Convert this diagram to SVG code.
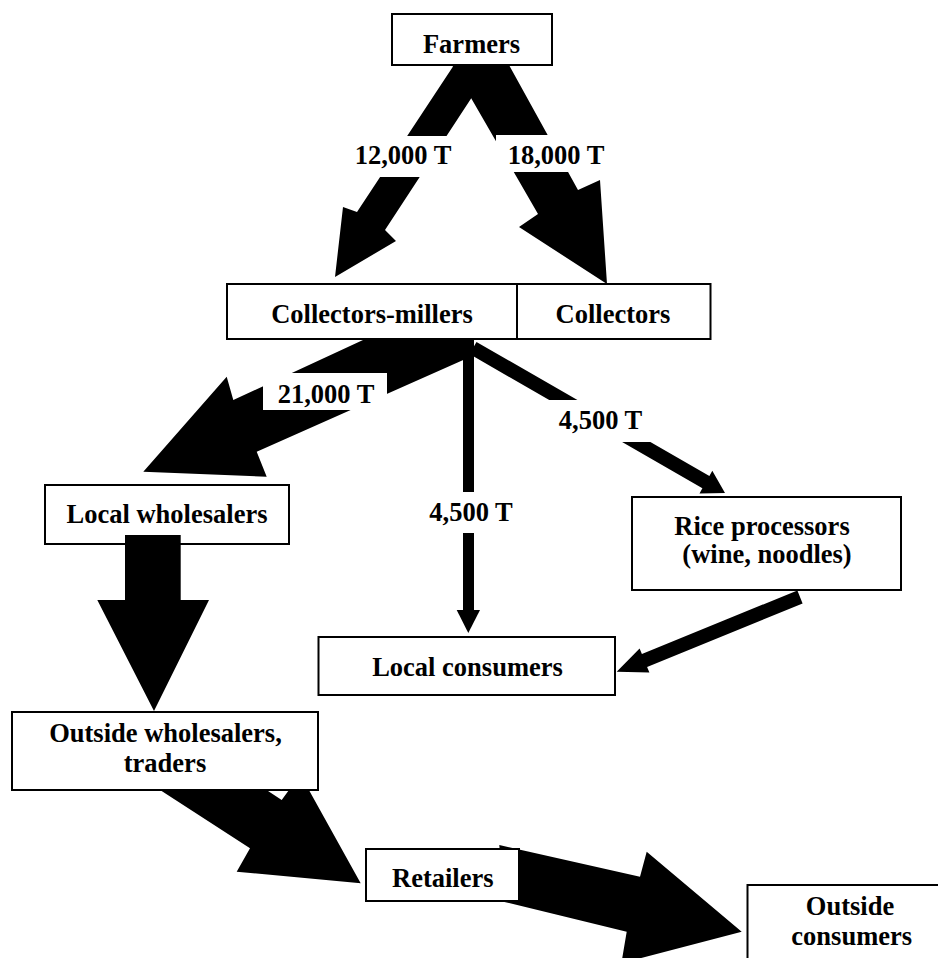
<svg xmlns="http://www.w3.org/2000/svg" width="938" height="958" viewBox="0 0 938 958">
  <style>
    .box { fill: #ffffff; stroke: #000000; stroke-width: 2; }
    .lbl { font-family: "Liberation Serif", "Times New Roman", serif; font-weight: bold; font-size: 26.5px; fill: #000000; text-anchor: middle; }
    .flow { fill: #000000; stroke: none; }
    .gap { fill: #ffffff; stroke: none; }
  </style>
  <rect x="0" y="0" width="938" height="958" fill="#ffffff"/>

  <!-- nodes that sit beneath the flow arrows -->
  <g id="farmers">
    <rect class="box" x="392" y="14" width="160" height="51"/>
    <text class="lbl" x="471.5" y="53">Farmers</text>
  </g>
  <g id="collectors-millers">
    <rect class="box" x="227" y="284" width="290" height="55"/>
    <text class="lbl" x="372" y="322.7">Collectors-millers</text>
  </g>
  <g id="collectors">
    <rect class="box" x="517" y="284" width="193.5" height="55"/>
    <text class="lbl" x="613" y="322.7">Collectors</text>
  </g>
  <g id="local-wholesalers">
    <rect class="box" x="45" y="485" width="244" height="59"/>
    <text class="lbl" x="167" y="522.7">Local wholesalers</text>
  </g>
  <g id="rice-processors">
    <rect class="box" x="632" y="497" width="269" height="93"/>
    <text class="lbl" x="762" y="535">Rice processors</text>
    <text class="lbl" x="767" y="563.3">(wine, noodles)</text>
  </g>
  <g id="local-consumers">
    <rect class="box" x="318.5" y="637" width="296.5" height="58"/>
    <text class="lbl" x="467.5" y="676">Local consumers</text>
  </g>

  <!-- flow arrows with their tonnage labels -->
  <g id="connectors">
    <!-- Farmers to Collectors-millers -->
    <polygon class="flow" points="454,65 357,212 343,207 335,277 396,241 385,230 493,65"/>
    <!-- Farmers to Collectors -->
    <polygon class="flow" points="452,65 509,65 578,190 600,180 607,284 519,227 538,214"/>
    <rect class="gap" x="350" y="136" width="108" height="41"/>
    <text class="lbl" x="403" y="164">12,000 T</text>
    <rect class="gap" x="496" y="135" width="118" height="37"/>
    <text class="lbl" x="556" y="164">18,000 T</text>

    <!-- Collectors-millers to Local wholesalers -->
    <polygon class="flow" points="363,340 470,340 470,357 256.7,451.7 266.7,476.7 143.3,471.7 226.7,376.7 233.3,400"/>
    <rect class="gap" x="263" y="373" width="124" height="37"/>
    <text class="lbl" x="326" y="403">21,000 T</text>

    <!-- Collectors-millers to Local consumers -->
    <rect class="flow" x="463" y="340" width="11" height="272"/>
    <polygon class="flow" points="456.7,610 480,610 468.3,633"/>
    <rect class="gap" x="425" y="492" width="92" height="41"/>
    <text class="lbl" x="471" y="520.5">4,500 T</text>

    <!-- Collectors-millers to Rice processors -->
    <polygon class="flow" points="476.5,341.9 709.4,476 712.3,470.8 725,493 699.5,493.4 702.4,488.2 469.5,354.1"/>
    <rect class="gap" x="548" y="400" width="107" height="42"/>
    <text class="lbl" x="600.5" y="429">4,500 T</text>

    <!-- Rice processors to Local consumers -->
    <polygon class="flow" points="797.4,590.5 641.9,653.9 639.6,648.4 616.7,671.7 649.4,672.4 647.1,666.9 802.6,603.5"/>

    <!-- Local wholesalers to Outside wholesalers -->
    <polygon class="flow" points="125,535 180.7,535 180.7,600 209,600 154,711 97.3,600 125,600"/>

    <!-- Outside wholesalers to Retailers -->
    <polygon class="flow" points="140,777 250,848.3 236.7,871.7 360.7,883.3 300.3,774.5 281.7,800 240,772.7"/>

    <!-- Retailers to Outside consumers -->
    <polygon class="flow" points="499.3,845 640,876.7 646.7,851.7 741.7,931.7 621.4,963.2 626.7,931.7 503.3,901.7"/>
  </g>

  <!-- nodes drawn over the tails of the arrows -->
  <g id="outside-wholesalers">
    <rect class="box" x="12" y="712" width="306" height="78"/>
    <text class="lbl" x="165.5" y="741.7">Outside wholesalers,</text>
    <text class="lbl" x="165" y="772">traders</text>
  </g>
  <g id="retailers">
    <rect class="box" x="366" y="849" width="153" height="52"/>
    <text class="lbl" x="442.8" y="886.7">Retailers</text>
  </g>
  <g id="outside-consumers">
    <rect class="box" x="747.5" y="885" width="210" height="100"/>
    <text class="lbl" x="850" y="915">Outside</text>
    <text class="lbl" x="851.7" y="945">consumers</text>
  </g>
</svg>
